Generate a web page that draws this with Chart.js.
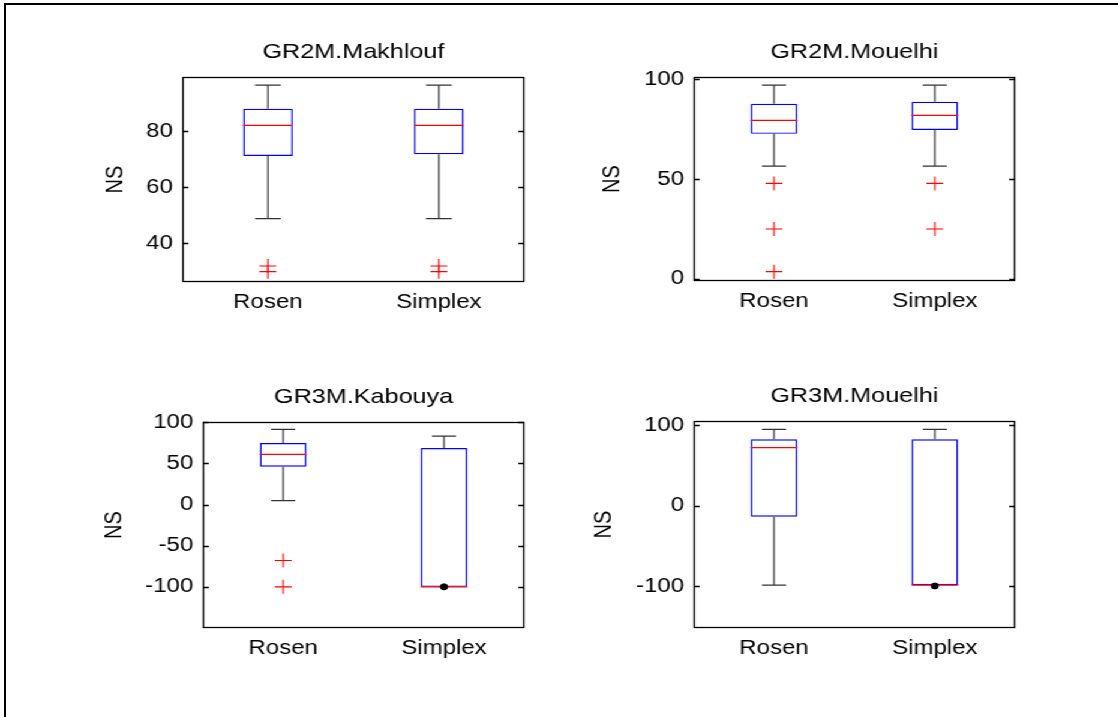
<!DOCTYPE html>
<html>
<head>
<meta charset="utf-8">
<title>NS boxplots</title>
<script src="https://cdn.jsdelivr.net/npm/chart.js@4.4.1/dist/chart.umd.min.js"></script>
<style>
  html, body { margin: 0; padding: 0; background: #fff; }
  body { width: 1118px; height: 717px; overflow: hidden; position: relative; }
  #frame { position: absolute; left: 4px; top: 3px; width: 1200px; height: 800px;
           border-top: 2px solid #000; border-left: 2px solid #000; }
  /* the figure is drawn narrow and stretched sideways */
  #sheet { position: absolute; left: 0; top: 0; width: 932px; height: 717px;
           transform: scaleX(1.2); transform-origin: 0 0; }
  #sheet canvas { position: absolute; }
</style>
</head>
<body>
<div id="frame"></div>
<div id="sheet">
  <canvas id="c1"></canvas>
  <canvas id="c2"></canvas>
  <canvas id="c3"></canvas>
  <canvas id="c4"></canvas>
</div>
<script>
const methods = ['Rosen', 'Simplex'];
const titles = ['GR2M.Makhlouf', 'GR2M.Mouelhi', 'GR3M.Kabouya', 'GR3M.Mouelhi'];

// each box: [lower whisker, Q1, median, Q3, upper whisker]
const gr2mMakhloufStats = [[48.7, 71.1, 82.0, 88.0, 96.4], [48.7, 71.7, 82.0, 88.0, 96.4]];
const gr2mMouelhiStats  = [[56.5, 72.7, 79.4, 87.8, 97.1], [56.5, 74.6, 81.9, 88.8, 97.1]];
const gr3mKabouyaStats  = [[4.9, 46.0, 61.0, 74.8, 91.5], [-100, -100, -100, 68.7, 83.3]];
const gr3mMouelhiStats  = [[-99, -13.7, 72.3, 82.7, 95.0], [-99, -99, -99, 82.7, 95.0]];

// outliers per method
const gr2mMakhloufOutliers = [[31.8, 29.8], [31.8, 29.8]];
const gr2mMouelhiOutliers  = [[47.8, 24.9, 3.5], [47.8, 24.9]];
const gr3mKabouyaOutliers  = [[-68, -100], []];
const gr3mMouelhiOutliers  = [[], []];

// single black points sitting on the collapsed lower end
const gr3mKabouyaDots = [[], [-100]];
const gr3mMouelhiDots = [[], [-100]];

// y axis ranges and tick values
const gr2mMakhloufRange = [26.1, 99.3];
const gr2mMouelhiRange  = [-1.2, 101.2];
const gr3mKabouyaRange  = [-150, 100.4];
const gr3mMouelhiRange  = [-152.3, 105.4];
const gr2mMakhloufTicks = [40, 60, 80];
const gr2mMouelhiTicks  = [0, 50, 100];
const gr3mKabouyaTicks  = [-100, -50, 0, 50, 100];
const gr3mMouelhiTicks  = [-100, 0, 100];

const BOX_WIDTH = 0.29;
const CAP_HALF = 0.075;
const FONT = 'Liberation Sans, Arial, Helvetica, sans-serif';

// frame round the plot area with short inward ticks on both sides
const axesFrame = {
  id: 'axesFrame',
  afterDraw(chart) {
    const { ctx, chartArea: a } = chart;
    const y = chart.scales.y;
    ctx.save();
    ctx.strokeStyle = '#000';
    ctx.lineWidth = 1.3;
    ctx.strokeRect(a.left + 0.5, a.top + 0.5, a.width - 1, a.height - 1);
    ctx.beginPath();
    y.ticks.forEach(t => {
      const py = Math.round(y.getPixelForValue(t.value)) + 0.5;
      ctx.moveTo(a.left, py); ctx.lineTo(a.left + 5, py);
      ctx.moveTo(a.right - 5, py); ctx.lineTo(a.right, py);
    });
    ctx.stroke();
    ctx.restore();
  }
};

function whiskerData(stats) {
  const pts = [];
  stats.forEach((s, i) => {
    const x = i + 1;
    pts.push({ x, y: s[3] }, { x, y: s[4] }, { x, y: null });
    pts.push({ x: x - CAP_HALF, y: s[4] }, { x: x + CAP_HALF, y: s[4] }, { x, y: null });
    if (s[0] !== s[1]) {
      pts.push({ x, y: s[0] }, { x, y: s[1] }, { x, y: null });
      pts.push({ x: x - CAP_HALF, y: s[0] }, { x: x + CAP_HALF, y: s[0] }, { x, y: null });
    }
  });
  return pts;
}

function medianData(stats) {
  const pts = [];
  stats.forEach((s, i) => {
    const x = i + 1;
    pts.push({ x: x - BOX_WIDTH / 2, y: s[2] }, { x: x + BOX_WIDTH / 2, y: s[2] }, { x, y: null });
  });
  return pts;
}

function pointData(lists) {
  const pts = [];
  lists.forEach((list, i) => list.forEach(v => pts.push({ x: i + 1, y: v })));
  return pts;
}

function drawPanel(el, title, stats, outliers, dots, range, ticks, nsPad) {
  return new Chart(el, {
    type: 'scatter',
    data: {
      datasets: [
        {
          data: pointData(outliers),
          pointStyle: 'cross', pointRadius: 7, pointBorderWidth: 1.1,
          borderColor: '#ff0000', backgroundColor: '#ff0000'
        },
        {
          data: pointData(dots),
          pointStyle: 'circle', pointRadius: 3,
          borderColor: '#000', backgroundColor: '#000'
        },
        {
          type: 'line', data: medianData(stats),
          borderColor: '#ff0000', borderWidth: 1.2, pointRadius: 0, spanGaps: false
        },
        {
          type: 'bar',
          data: stats.map((s, i) => ({ x: i + 1, y: [s[1], s[3]] })),
          backgroundColor: '#fff', borderColor: '#0000ff', borderWidth: 1.4,
          borderSkipped: false, categoryPercentage: 1, barPercentage: BOX_WIDTH
        },
        {
          type: 'line', data: whiskerData(stats),
          borderColor: '#333', borderWidth: 1.2, pointRadius: 0, spanGaps: false
        }
      ]
    },
    options: {
      responsive: false,
      animation: false,
      events: [],
      layout: { padding: 0 },
      plugins: {
        legend: { display: false },
        tooltip: { enabled: false },
        title: {
          display: true, text: title, color: '#000',
          font: { family: FONT, size: 21, weight: 'normal' },
          padding: { top: 7.4, bottom: 12.4 }
        }
      },
      scales: {
        x: {
          type: 'linear', min: 0.5, max: 2.5, offset: false,
          grid: { display: false, drawTicks: false },
          border: { display: false },
          afterBuildTicks: s => { s.ticks = methods.map((m, i) => ({ value: i + 1 })); },
          afterFit: s => { s.height = 45; },
          ticks: {
            autoSkip: false, maxRotation: 0, padding: 8, color: '#000',
            font: { family: FONT, size: 20 },
            callback: v => methods[v - 1]
          }
        },
        y: {
          type: 'linear', position: 'left', min: range[0], max: range[1],
          grid: { display: false, drawTicks: false },
          border: { display: false },
          afterBuildTicks: s => { s.ticks = ticks.map(v => ({ value: v })); },
          afterFit: s => { s.width = 90; },
          ticks: {
            padding: 8, color: '#000',
            font: { family: FONT, size: 20 },
            callback: v => String(v)
          },
          title: {
            display: true, text: 'NS', color: '#000',
            font: { family: FONT, size: 20 },
            padding: { top: nsPad, bottom: 0 }
          }
        },
        // empty right-hand strip so the title stays centred over the plot
        yRight: {
          type: 'linear', position: 'right', display: true,
          grid: { display: false, drawTicks: false },
          border: { display: false },
          ticks: { display: false },
          afterFit: s => { s.width = 90; }
        }
      }
    },
    plugins: [axesFrame]
  });
}

const layout = [
  { id: 'c1', left: 62,  top: 32,  width: 465, height: 295, nsPad: 22.4 },
  { id: 'c2', left: 488, top: 32,  width: 448, height: 294, nsPad: 10.8 },
  { id: 'c3', left: 79,  top: 377, width: 448, height: 296, nsPad: 4.6 },
  { id: 'c4', left: 488, top: 376, width: 448, height: 297, nsPad: 3.9 }
];
layout.forEach(p => {
  const el = document.getElementById(p.id);
  el.width = p.width;
  el.height = p.height;
  el.style.left = p.left + 'px';
  el.style.top = p.top + 'px';
});

const c = id => document.getElementById(id);
drawPanel(c('c1'), titles[0], gr2mMakhloufStats, gr2mMakhloufOutliers, [[], []],
  gr2mMakhloufRange, gr2mMakhloufTicks, layout[0].nsPad);
drawPanel(c('c2'), titles[1], gr2mMouelhiStats, gr2mMouelhiOutliers, [[], []],
  gr2mMouelhiRange, gr2mMouelhiTicks, layout[1].nsPad);
drawPanel(c('c3'), titles[2], gr3mKabouyaStats, gr3mKabouyaOutliers, gr3mKabouyaDots,
  gr3mKabouyaRange, gr3mKabouyaTicks, layout[2].nsPad);
drawPanel(c('c4'), titles[3], gr3mMouelhiStats, gr3mMouelhiOutliers, gr3mMouelhiDots,
  gr3mMouelhiRange, gr3mMouelhiTicks, layout[3].nsPad);
</script>
</body>
</html>
